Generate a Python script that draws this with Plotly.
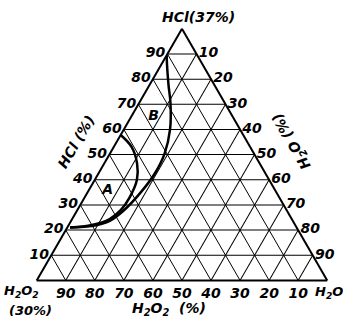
import plotly.graph_objects as go

# Tick values shared by the three composition axes (percent)
tick_vals = [10, 20, 30, 40, 50, 60, 70, 80, 90]
tick_text = ["10", "20", "30", "40", "50", "60", "70", "80", "90"]

# Curve B: HCl(37%) and H2O content in percent; H2O2(30%) is the remainder
curve_b_hcl = [89.5, 85.9, 77.9, 70.5, 60.0, 50.5, 42.4, 34.5, 27.7, 23.7, 21.7, 21.0]
curve_b_h2o = [0.0, 1.9, 6.4, 10.8, 15.9, 18.8, 19.4, 18.2, 16.0, 13.3, 8.6, 1.0]

# Curve A: same composition axes
curve_a_hcl = [57.8, 53.1, 46.5, 40.0, 33.0, 28.0, 24.4, 22.0, 21.0]
curve_a_h2o = [0.0, 6.1, 11.3, 14.5, 15.5, 15.0, 12.9, 8.0, 1.0]

# Positions of the curve letters
label_names = ["A", "B"]
label_hcl = [35.7, 65.0]
label_h2o = [6.6, 7.7]


def remainder(hcl, h2o):
    return [100 - x - y for x, y in zip(hcl, h2o)]


FONT = dict(family="DejaVu Sans", size=14, color="black", style="italic", weight="bold")
SMALL = dict(FONT, size=13)

fig = go.Figure()

for hcl, h2o in [(curve_b_hcl, curve_b_h2o), (curve_a_hcl, curve_a_h2o)]:
    fig.add_trace(go.Scatterternary(
        a=hcl, b=remainder(hcl, h2o), c=h2o,
        mode="lines",
        line=dict(color="black", width=2.5, shape="spline", smoothing=1.0),
        showlegend=False, hoverinfo="skip",
    ))

fig.add_trace(go.Scatterternary(
    a=label_hcl, b=remainder(label_hcl, label_h2o), c=label_h2o,
    mode="text", text=label_names,
    textfont=FONT,
    showlegend=False, hoverinfo="skip",
))

axis_common = dict(
    tickmode="array", tickvals=tick_vals, ticktext=tick_text,
    ticks="", showline=True, linecolor="black", linewidth=2,
    showgrid=True, gridcolor="black", gridwidth=1.2,
    tickfont=FONT, title=dict(text=""), min=0,
)

fig.update_layout(
    width=343, height=323,
    margin=dict(l=0, r=0, t=0, b=0),
    paper_bgcolor="white",
    showlegend=False,
    ternary=dict(
        sum=100,
        bgcolor="white",
        domain=dict(x=[0.107, 0.954], y=[0.1254, 0.9172]),
        aaxis=dict(**axis_common),
        baxis=dict(**axis_common),
        caxis=dict(**axis_common),
    ),
)

annotations = [
    (FONT, "HCl(37%)", 198, 17, 0),
    (SMALL, "H<sub>2</sub>O<sub>2</sub>", 21, 291, 0),
    (SMALL, "(30%)", 30, 310, 0),
    (SMALL, "H<sub>2</sub>O", 329, 292, 0),
    (FONT, "H<sub>2</sub>O<sub>2</sub>  (%)", 169, 309, 0),
    (FONT, "HCl (%)", 76, 142, -60),
    (FONT, "H<sub>2</sub>O (%)", 292, 141, -120),
]
for font, text, px, py, angle in annotations:
    fig.add_annotation(
        text=text, x=px / 343, y=1 - py / 323,
        xref="paper", yref="paper", xanchor="center", yanchor="middle",
        showarrow=False, textangle=angle, font=font,
    )

fig.write_html("out.html")
